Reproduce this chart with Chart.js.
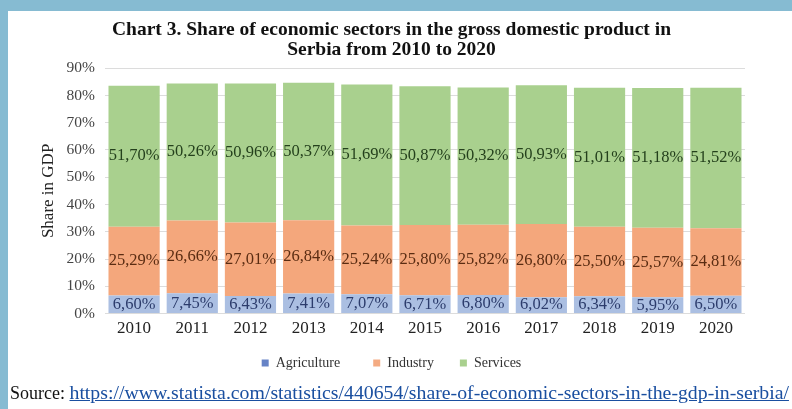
<!DOCTYPE html>
<html>
<head>
<meta charset="utf-8">
<script src="https://cdn.jsdelivr.net/npm/chart.js@4.4.1/dist/chart.umd.min.js"></script>
<style>
    html, body { margin: 0; padding: 0; background: #fff; }
    #frame {
        position: absolute; left: 0; top: 0; width: 792px; height: 409px;
        box-sizing: border-box; border-top: 11px solid #86bbd2; border-left: 8px solid #86bbd2;
        background: #fff; overflow: hidden;
    }
    #chartBox { position: absolute; left: 0; top: 0; width: 784px; height: 373px; }
    #source {
        position: absolute; left: 2px; top: 370px; white-space: nowrap;
        font-family: 'Liberation Serif', 'Times New Roman', serif; font-size: 18px; color: #111;
    }
    #source a { color: #1a4fa0; text-decoration: underline; font-size: 19.8px; }
</style>
</head>
<body>
<div id="frame">
    <div id="chartBox"><canvas id="sectorChart"></canvas></div>
    <div id="source">Source: <a href="#">https://www.statista.com/statistics/440654/share-of-economic-sectors-in-the-gdp-in-serbia/</a></div>
</div>
<script>
// Shares of GDP by sector, percent
const years = ['2010', '2011', '2012', '2013', '2014', '2015', '2016', '2017', '2018', '2019', '2020'];
const agriculture = [6.60, 7.45, 6.43, 7.41, 7.07, 6.71, 6.80, 6.02, 6.34, 5.95, 6.50];
const industry = [25.29, 26.66, 27.01, 26.84, 25.24, 25.80, 25.82, 26.80, 25.50, 25.57, 24.81];
const services = [51.70, 50.26, 50.96, 50.37, 51.69, 50.87, 50.32, 50.93, 51.01, 51.18, 51.52];

const serif = "'Liberation Serif', 'Times New Roman', serif";

// writes each segment's value in the middle of the segment, with a decimal comma
const segmentLabels = {
    id: 'segmentLabels',
    afterDatasetsDraw(chart) {
        const ctx = chart.ctx;
        ctx.save();
        ctx.font = '16.5px ' + serif;
        ctx.textAlign = 'center';
        ctx.textBaseline = 'middle';
        chart.data.datasets.forEach((ds, i) => {
            const meta = chart.getDatasetMeta(i);
            ctx.fillStyle = ds.labelColor;
            meta.data.forEach((bar, j) => {
                const txt = ds.data[j].toFixed(2).replace('.', ',') + '%';
                ctx.fillText(txt, bar.x, (bar.y + bar.base) / 2);
            });
        });
        ctx.restore();
    }
};

// extra room after the first two legend entries (legend padding is kept small vertically)
const legendGap = ['      ', '    ', ''];
const legendSwatch = ['#6683c6', '#f4ab82', '#a9d08e'];

const ctx = document.getElementById('sectorChart').getContext('2d');
new Chart(ctx, {
    type: 'bar',
    data: {
        labels: years,
        datasets: [
            { label: 'Agriculture', data: agriculture, backgroundColor: '#abbfe2', labelColor: '#2c3c6c' },
            { label: 'Industry', data: industry, backgroundColor: '#f4a77c', labelColor: '#5a2c12' },
            { label: 'Services', data: services, backgroundColor: '#a9d08e', labelColor: '#24401c' }
        ]
    },
    options: {
        responsive: true,
        maintainAspectRatio: false,
        animation: false,
        layout: { padding: { left: 30, right: 47, top: 9, bottom: 4 } },
        datasets: { bar: { categoryPercentage: 0.88, barPercentage: 1 } },
        scales: {
            x: {
                stacked: true,
                grid: { display: false, drawTicks: false },
                border: { display: false },
                ticks: { color: '#222', font: { family: serif, size: 17 }, padding: 5 }
            },
            y: {
                stacked: true,
                min: 0,
                max: 90,
                grid: { color: '#dcdcdc', drawTicks: false },
                border: { display: false },
                ticks: {
                    stepSize: 10,
                    padding: 10,
                    color: '#444',
                    font: { family: serif, size: 15.5 },
                    callback: v => v + '%'
                },
                title: {
                    display: true,
                    text: 'Share in GDP',
                    color: '#222',
                    font: { family: serif, size: 17 },
                    padding: 0
                },
                afterFit: scale => { scale.width = 67; }
            }
        },
        plugins: {
            title: {
                display: true,
                text: ['Chart 3. Share of economic sectors in the gross domestic product in', 'Serbia from 2010 to 2020'],
                color: '#111',
                font: { family: serif, size: 19.5, weight: 'bold', lineHeight: 1.03 },
                padding: { top: 0, bottom: 8 }
            },
            legend: {
                position: 'bottom',
                labels: {
                    color: '#333',
                    font: { family: serif, size: 14 },
                    boxWidth: 7,
                    boxHeight: 7,
                    padding: 12,
                    generateLabels: chart => {
                        const items = Chart.defaults.plugins.legend.labels.generateLabels(chart);
                        items.forEach((item, i) => {
                            item.text += legendGap[i];
                            item.fillStyle = legendSwatch[i];
                        });
                        return items;
                    }
                }
            },
            tooltip: { enabled: false }
        }
    },
    plugins: [segmentLabels]
});
</script>
</body>
</html>
